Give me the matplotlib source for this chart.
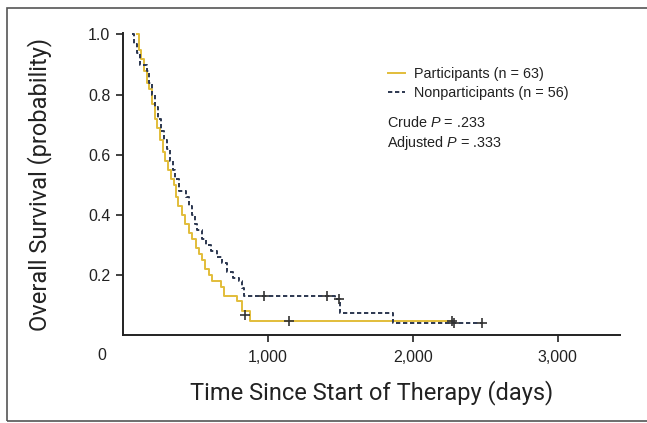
import matplotlib
matplotlib.use("Agg")
import matplotlib.pyplot as plt
from matplotlib.patches import Rectangle
from matplotlib.lines import Line2D

plt.rcParams['font.family'] = ['Liberation Sans', 'DejaVu Sans']
plt.rcParams['mathtext.fontset'] = 'custom'
plt.rcParams['mathtext.it'] = 'Liberation Sans:italic'
plt.rcParams['mathtext.rm'] = 'Liberation Sans'

# Kaplan-Meier steps (days, survival probability)
part_days = [97, 110, 124, 145, 166, 179, 200, 221, 234, 255, 276, 290, 310, 331,
             352, 366, 379, 407, 428, 455, 476, 503, 524, 545, 566, 593, 614, 676,
             697, 786, 821, 876, 2269]
part_surv = [1.0, 0.95, 0.92, 0.88, 0.84, 0.82, 0.77, 0.72, 0.69, 0.65, 0.61, 0.58,
             0.55, 0.52, 0.50, 0.46, 0.43, 0.40, 0.37, 0.34, 0.32, 0.29, 0.27, 0.25,
             0.22, 0.20, 0.18, 0.16, 0.13, 0.113, 0.08, 0.045, 0.045]
part_cens_days = [845, 1145, 2269]
part_cens_surv = [0.065, 0.045, 0.045]

nonpart_days = [62, 76, 97, 117, 166, 179, 200, 221, 241, 262, 283, 303, 324, 345,
                359, 386, 434, 455, 476, 497, 510, 545, 572, 607, 648, 683, 717, 759,
                800, 821, 834, 1462, 1497, 1862, 2476]
nonpart_surv = [1.0, 0.97, 0.94, 0.90, 0.88, 0.84, 0.80, 0.76, 0.72, 0.68, 0.65, 0.62,
                0.58, 0.55, 0.52, 0.48, 0.46, 0.43, 0.40, 0.37, 0.35, 0.32, 0.30, 0.28,
                0.26, 0.24, 0.21, 0.19, 0.18, 0.157, 0.13, 0.12, 0.073, 0.04, 0.04]
nonpart_cens_days = [972, 1407, 1490, 2283, 2476]
nonpart_cens_surv = [0.13, 0.13, 0.12, 0.04, 0.04]

yellow = '#e2bd3a'
navy = '#2c3750'
label_font = ['Roboto', 'DejaVu Sans']

fig = plt.figure(figsize=(6.47, 4.23), dpi=100)
ax = fig.add_axes([0.190, 0.208, 0.768, 0.714])

ax.step(part_days, part_surv, where='post', color=yellow, lw=1.4)
ax.step(nonpart_days, nonpart_surv, where='post', color=navy, lw=1.4,
        linestyle=(0, (2.2, 1.4)))
ax.plot(part_cens_days, part_cens_surv, '+', color='#333333', ms=7, mew=1.2)
ax.plot(nonpart_cens_days, nonpart_cens_surv, '+', color='#333333', ms=7, mew=1.2)

ax.set_xlim(0, 3430)
ax.set_ylim(0, 1.005)
ax.set_xticks([1000, 2000, 3000])
ax.set_xticklabels(['1,000', '2,000', '3,000'])
ax.set_yticks([0.2, 0.4, 0.6, 0.8, 1.0])
ax.set_yticklabels(['0.2', '0.4', '0.6', '0.8', '1.0'])
ax.tick_params(axis='both', direction='out', length=5, width=1.2,
               labelsize=11.5, colors='#222222')
ax.tick_params(axis='y', pad=4)
ax.tick_params(axis='x', pad=6)
for side in ['top', 'right']:
    ax.spines[side].set_visible(False)
for side in ['left', 'bottom']:
    ax.spines[side].set_linewidth(1.4)
    ax.spines[side].set_color('#222222')

# corner "0" label
ax.annotate('0', xy=(0, 0), xytext=(-15, -15), textcoords='offset points',
            ha='center', va='center', fontsize=11.5, color='#222222')

ax.set_xlabel('Time Since Start of Therapy (days)', fontsize=17,
              family=label_font, color='#222222', labelpad=11)
ax.set_ylabel('Overall Survival (probability)', fontsize=17,
              family=label_font, color='#222222', labelpad=26)

handles = [Line2D([], [], color=yellow, lw=1.4),
           Line2D([], [], color=navy, lw=1.4, linestyle=(0, (2.2, 1.4)))]
leg = ax.legend(handles, ['Participants (n = 63)', 'Nonparticipants (n = 56)'],
                loc='upper left', bbox_to_anchor=(0.522, 0.905), frameon=False,
                fontsize=10.4, handlelength=1.2, handletextpad=0.6,
                labelspacing=0.3, borderaxespad=0)
for t in leg.get_texts():
    t.set_color('#222222')

ax.text(0.532, 0.705, 'Crude $P$ = .233', transform=ax.transAxes, fontsize=10.4,
        color='#222222', va='center')
ax.text(0.532, 0.635, 'Adjusted $P$ = .333', transform=ax.transAxes, fontsize=10.4,
        color='#222222', va='center')

# outer frame of the panel
fig.patches.append(Rectangle((7 / 647, 2 / 423), 1.2, 1 - 10 / 423,
                             transform=fig.transFigure, fill=False,
                             edgecolor='#555555', lw=1.2))

fig.savefig('out.png', dpi=100)
plt.close(fig)
